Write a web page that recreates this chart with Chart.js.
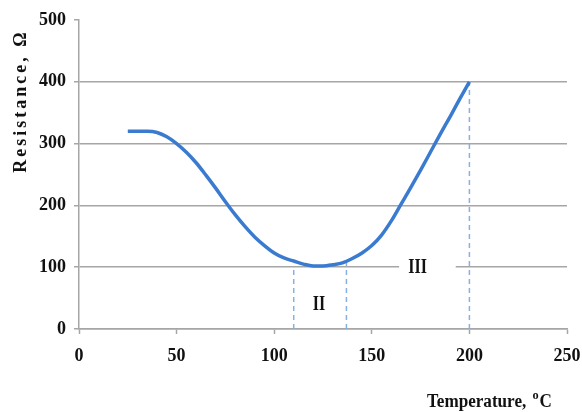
<!DOCTYPE html>
<html>
<head>
<meta charset="utf-8">
<script src="https://cdn.jsdelivr.net/npm/chart.js@4.4.0/dist/chart.umd.min.js"></script>
<style>
  html,body{margin:0;padding:0;background:#fff;}
  #wrap{width:582px;height:412px;}
</style>
</head>
<body>
<div id="wrap"><canvas id="chart" width="582" height="412"></canvas></div>
<script>
// --- data
const temps = [25,30,35,40,45,50,55,60,65,70,75,80,85,90,95,100,105,110,115,120,125,130,135,140,145,150,155,160,165,170,175,180,185,190,195,200];
const resistance = [320,320,320,318,311,300,286,269,249,228,206,185,166,149,135,123,115,110,105,102,102,104,107,114,123,135,152,175,202,229,257,286,315,343,372,400];
const boundaryTemps = [110,137,200];
const boundaryTops = [100,108,400];
const regionNames = ['II','III'];
const regionTemps = [123,173.5];
const regionRes = [40,100];
const xTicks = [0,50,100,150,200,250];
const yTicks = [0,100,200,300,400,500];

const tickFont = {family:'"Liberation Serif", serif', size:18, weight:'bold'};
const grey = '#a6a6a6';

const datasets = [{
  data: temps.map((t,i)=>({x:t,y:resistance[i]})),
  borderColor:'#3a7bd0', borderWidth:3.5, pointRadius:0,
  tension:0.4, cubicInterpolationMode:'monotone', fill:false
}];
boundaryTemps.forEach((t,i)=>{
  datasets.push({
    data:[{x:t,y:0},{x:t,y:boundaryTops[i]}],
    borderColor:'#86b0e6', borderWidth:1.5, borderDash:[5,4], pointRadius:0, fill:false
  });
});

// --- texts: region labels and axis titles
const textPlugin = {
  id:'texts',
  afterDatasetsDraw(chart){
    const ctx = chart.ctx, xs = chart.scales.x, ys = chart.scales.y;
    ctx.save();
    ctx.fillStyle = '#111';
    ctx.textAlign = 'center'; ctx.textBaseline = 'middle';
    regionNames.forEach((name,i)=>{
      const px = xs.getPixelForValue(regionTemps[i]), py = ys.getPixelForValue(regionRes[i]);
      if(name==='III'){
        ctx.fillStyle = '#fff';
        ctx.fillRect(xs.getPixelForValue(164), py-3, xs.getPixelForValue(193)-xs.getPixelForValue(164), 6);
        ctx.fillStyle = '#111';
      }
      ctx.save();
      ctx.translate(px,py); ctx.scale(0.8,1);
      ctx.font = 'bold 20px "Liberation Serif", serif';
      ctx.fillText(name,0,1);
      ctx.restore();
    });

    // y title
    ctx.save();
    ctx.translate(21,101); ctx.rotate(-Math.PI/2);
    ctx.font = 'bold 18px "Liberation Serif", serif';
    ctx.letterSpacing = '3px';
    ctx.fillText('Resistance, \u03a9',0,0);
    ctx.restore();

    // x title
    ctx.save();
    ctx.textAlign = 'left';
    ctx.translate(427,402); ctx.scale(0.95,1);
    ctx.font = 'bold 18px "Liberation Serif", serif';
    let s = 'Temperature, ';
    ctx.fillText(s,0,0);
    let w = ctx.measureText(s).width;
    ctx.font = 'bold 13px "Liberation Serif", serif';
    ctx.fillText('o',w+2,-6);
    let w2 = ctx.measureText('o').width;
    ctx.font = 'bold 18px "Liberation Serif", serif';
    ctx.fillText('C',w+w2+3,0);
    ctx.restore();
    ctx.restore();
  }
};

new Chart(document.getElementById('chart'),{
  type:'line',
  data:{datasets},
  options:{
    responsive:false, animation:false,
    layout:{padding:{top:20,right:15,left:0,bottom:0}},
    plugins:{legend:{display:false},tooltip:{enabled:false}},
    scales:{
      x:{
        type:'linear', min:0, max:250,
        afterBuildTicks:s=>{ s.ticks = xTicks.map(v=>({value:v})); },
        afterFit:s=>{ s.height = 83; s.paddingLeft = 0; s.paddingRight = 0; },
        grid:{drawOnChartArea:false, drawTicks:true, tickLength:5, tickColor:grey, tickWidth:1.5},
        border:{display:true, color:grey, width:1.5},
        ticks:{font:tickFont, color:'#111', padding:12, maxRotation:0}
      },
      y:{
        min:0, max:500,
        afterBuildTicks:s=>{ s.ticks = yTicks.map(v=>({value:v})); },
        afterFit:s=>{ s.width = 79; s.paddingTop = 0; s.paddingBottom = 0; },
        grid:{color:c=>c.tick && c.tick.value===500 ? 'rgba(0,0,0,0)' : grey, lineWidth:1.5, tickLength:5, tickColor:grey, tickWidth:1.5},
        border:{display:true, color:grey, width:1.5},
        ticks:{font:tickFont, color:'#111', padding:8}
      }
    }
  },
  plugins:[textPlugin]
});
</script>
</body>
</html>
